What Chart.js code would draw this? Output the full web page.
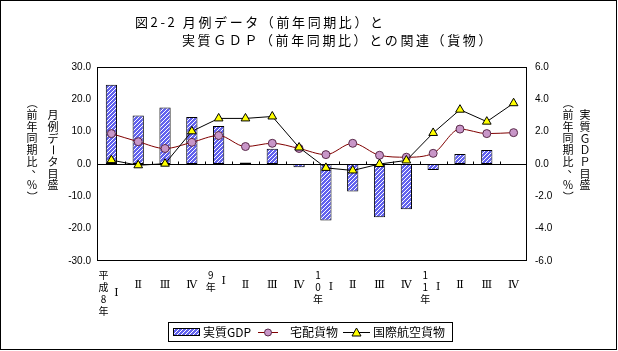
<!DOCTYPE html>
<html>
<head>
<meta charset="utf-8">
<script src="https://cdn.jsdelivr.net/npm/chart.js@4/dist/chart.umd.min.js"></script>
<style>
  html, body { margin: 0; padding: 0; background: #fff; }
  #c { display: block; }
</style>
</head>
<body>
<canvas id="c" width="618" height="351"></canvas>
<script>
// Quarter labels and the year label that sits beside the first quarter
const quarters = ["Ⅰ", "Ⅱ", "Ⅲ", "Ⅳ", "Ⅰ", "Ⅱ", "Ⅲ", "Ⅳ", "Ⅰ", "Ⅱ", "Ⅲ", "Ⅳ", "Ⅰ", "Ⅱ", "Ⅲ", "Ⅳ"];
const yearLabels = ["平成8年", "", "", "", "9年", "", "", "", "10年", "", "", "", "11年", "", "", ""];

// 実質GDP (right axis, %)
const gdpValues = [4.9, 3.0, 3.5, 2.9, 2.35, 0.1, 0.95, -0.2, -3.5, -1.7, -3.3, -2.8, -0.37, 0.62, 0.87, null];
// 宅配貨物 (left axis, %)
const takuhaiValues = [9.4, 6.9, 4.8, 6.7, 8.8, 5.4, 6.4, 4.8, 2.9, 6.4, 2.7, 2.1, 3.3, 10.8, 9.4, 9.7];
// 国際航空貨物 (left axis, %)
const airCargoValues = [1.2, -0.4, 0.1, 10.1, 14.1, 14.1, 14.7, 5.1, -1.2, -2.0, 0.0, 1.1, 9.6, 16.8, 13.1, 18.8];

const leftTicks = { min: -30, max: 30, step: 10 };
const rightTicks = { min: -6, max: 6, step: 2 };

const titleLines = ["図2-2 月例データ（前年同期比）と", "実質ＧＤＰ（前年同期比）との関連（貨物）"];
const leftAxisTitle = ["（前年同期比、％）", "月例データ目盛"];
const rightAxisTitle = ["（前年同期比、％）", "実質ＧＤＰ目盛"];
const legendNames = ["実質GDP", "宅配貨物", "国際航空貨物"];

const JP = '"Noto Sans CJK JP", sans-serif';

// blue hatch used by the GDP bars
function makeHatch() {
  const c = document.createElement("canvas");
  c.width = 4;
  c.height = 4;
  const g = c.getContext("2d");
  g.fillStyle = "#6262ee";
  g.fillRect(0, 0, 4, 4);
  g.fillStyle = "#ffffff";
  for (let i = 0; i < 4; i++) g.fillRect(3 - i, i, 1, 1);
  return g.createPattern(c, "repeat");
}
const hatch = makeHatch();

// vertical text: stack characters, turn brackets and the long vowel mark
function drawColumn(ctx, text, x, yStart, step) {
  Array.from(text).forEach((ch, k) => {
    const y = yStart + k * step;
    if (ch === "（" || ch === "）" || ch === "ー") {
      ctx.save();
      ctx.translate(x, y);
      ctx.rotate(Math.PI / 2);
      ctx.fillText(ch, 0, 0);
      ctx.restore();
    } else if (ch === "、") {
      ctx.fillText(ch, x + 5, y - 5);
    } else {
      ctx.fillText(ch, x, y);
    }
  });
}

const decor = {
  id: "decor",
  beforeDraw(chart) {
    const ctx = chart.ctx;
    ctx.save();
    ctx.fillStyle = "#fff";
    ctx.fillRect(0, 0, chart.width, chart.height);
    ctx.restore();
  },
  beforeDatasetsDraw(chart) {
    const ctx = chart.ctx;
    const a = chart.chartArea;
    const y0 = Math.round(chart.scales.yL.getPixelForValue(0)) + 0.5;
    ctx.save();
    ctx.strokeStyle = "#000";
    ctx.lineWidth = 1;
    ctx.beginPath();
    ctx.moveTo(a.left, y0);
    ctx.lineTo(a.right, y0);
    // small category ticks on the zero line
    const w = (a.right - a.left) / quarters.length;
    for (let i = 1; i < quarters.length; i++) {
      const x = Math.round(a.left + i * w) + 0.5;
      ctx.moveTo(x, y0);
      ctx.lineTo(x, y0 - 3);
    }
    ctx.stroke();
    ctx.restore();
  },
  afterDraw(chart) {
    const ctx = chart.ctx;
    const a = chart.chartArea;
    const xs = chart.scales.x;
    ctx.save();
    ctx.strokeStyle = "#000";
    ctx.fillStyle = "#000";
    ctx.lineWidth = 1;

    // plot frame and outer frame
    ctx.strokeRect(Math.round(a.left) - 0.5, Math.round(a.top) + 0.5,
      Math.round(a.right - a.left), Math.round(a.bottom - a.top) - 1);
    ctx.strokeRect(0.5, 0.5, 616, 349);

    // title
    ctx.font = "13px " + JP;
    ctx.textBaseline = "middle";
    ctx.textAlign = "left";
    ctx.letterSpacing = "2.6px";
    ctx.fillText(titleLines[0], 135, 22);
    ctx.fillText(titleLines[1], 182, 40);
    ctx.letterSpacing = "0px";

    // vertical axis titles
    ctx.font = "11px " + JP;
    ctx.textAlign = "center";
    drawColumn(ctx, leftAxisTitle[0], 32, 103, 11.7);
    drawColumn(ctx, leftAxisTitle[1], 53, 115, 11.7);
    drawColumn(ctx, rightAxisTitle[0], 568, 103, 11.7);
    drawColumn(ctx, rightAxisTitle[1], 585, 115, 11.7);

    // category labels
    quarters.forEach((q, i) => {
      const cx = xs.getPixelForValue(i);
      const chars = Array.from(yearLabels[i]);
      const n = chars.length;
      ctx.font = "10px " + JP;
      chars.forEach((ch, k) => ctx.fillText(ch, cx - 8, 275 + k * 12));
      ctx.font = '11px "DejaVu Serif", serif';
      ctx.fillText(q, n ? cx + 5 : cx, n ? 275 + (n - 1) * 6 : 285);
    });

    // legend
    ctx.strokeRect(168.5, 322.5, 284, 19);
    ctx.font = "12px " + JP;
    ctx.textAlign = "left";
    ctx.fillStyle = hatch;
    ctx.fillRect(173, 328, 27, 8);
    ctx.strokeRect(173.5, 328.5, 26, 7);
    ctx.fillStyle = "#000";
    ctx.fillText(legendNames[0], 203, 332);

    ctx.strokeStyle = "#800000";
    ctx.beginPath();
    ctx.moveTo(258, 332.5);
    ctx.lineTo(278, 332.5);
    ctx.stroke();
    ctx.fillStyle = "#c896c8";
    ctx.strokeStyle = "#5a2a4a";
    ctx.beginPath();
    ctx.arc(268, 332.5, 3.5, 0, Math.PI * 2);
    ctx.fill();
    ctx.stroke();
    ctx.fillStyle = "#000";
    ctx.fillText(legendNames[1], 290, 332);

    ctx.strokeStyle = "#000";
    ctx.beginPath();
    ctx.moveTo(343, 332.5);
    ctx.lineTo(370, 332.5);
    ctx.stroke();
    ctx.fillStyle = "#ffff00";
    ctx.beginPath();
    ctx.moveTo(356.5, 328);
    ctx.lineTo(361, 336);
    ctx.lineTo(352, 336);
    ctx.closePath();
    ctx.fill();
    ctx.stroke();
    ctx.fillStyle = "#000";
    ctx.fillText(legendNames[2], 373, 332);

    ctx.restore();
  },
};

new Chart(document.getElementById("c"), {
  type: "bar",
  data: {
    labels: quarters,
    datasets: [
      {
        type: "line",
        label: legendNames[2],
        data: airCargoValues,
        yAxisID: "yL",
        borderColor: "#000",
        borderWidth: 1,
        pointStyle: "triangle",
        pointRadius: 5,
        pointBackgroundColor: "#ffff00",
        pointBorderColor: "#000",
        pointBorderWidth: 1,
        tension: 0,
        order: 1,
      },
      {
        type: "line",
        label: legendNames[1],
        data: takuhaiValues,
        yAxisID: "yL",
        borderColor: "#800000",
        borderWidth: 1,
        pointStyle: "circle",
        pointRadius: 4,
        pointBackgroundColor: "#c896c8",
        pointBorderColor: "#5a2a4a",
        pointBorderWidth: 1,
        cubicInterpolationMode: "monotone",
        order: 2,
      },
      {
        type: "bar",
        label: legendNames[0],
        data: gdpValues,
        yAxisID: "yR",
        backgroundColor: hatch,
        borderColor: "#000",
        borderWidth: 1,
        borderSkipped: false,
        barPercentage: 0.42,
        categoryPercentage: 1,
        order: 3,
      },
    ],
  },
  options: {
    responsive: false,
    animation: false,
    events: [],
    layout: { padding: { left: 0, right: 0, top: 67, bottom: 90 } },
    plugins: {
      legend: { display: false },
      title: { display: false },
      tooltip: { enabled: false },
    },
    scales: {
      x: {
        type: "category",
        display: false,
        offset: true,
      },
      yL: {
        position: "left",
        min: leftTicks.min,
        max: leftTicks.max,
        grid: { display: false, drawTicks: false },
        border: { display: false },
        ticks: {
          stepSize: leftTicks.step,
          padding: 7,
          color: "#000",
          font: { family: "Liberation Sans", size: 10 },
          callback: (v) => v.toFixed(1),
        },
        afterFit: (s) => { s.width = 98; },
      },
      yR: {
        position: "right",
        min: rightTicks.min,
        max: rightTicks.max,
        grid: { display: false, drawTicks: false },
        border: { display: false },
        ticks: {
          stepSize: rightTicks.step,
          padding: 8,
          color: "#000",
          font: { family: "Liberation Sans", size: 10 },
          callback: (v) => v.toFixed(1),
        },
        afterFit: (s) => { s.width = 91; },
      },
    },
  },
  plugins: [decor],
});
</script>
</body>
</html>
